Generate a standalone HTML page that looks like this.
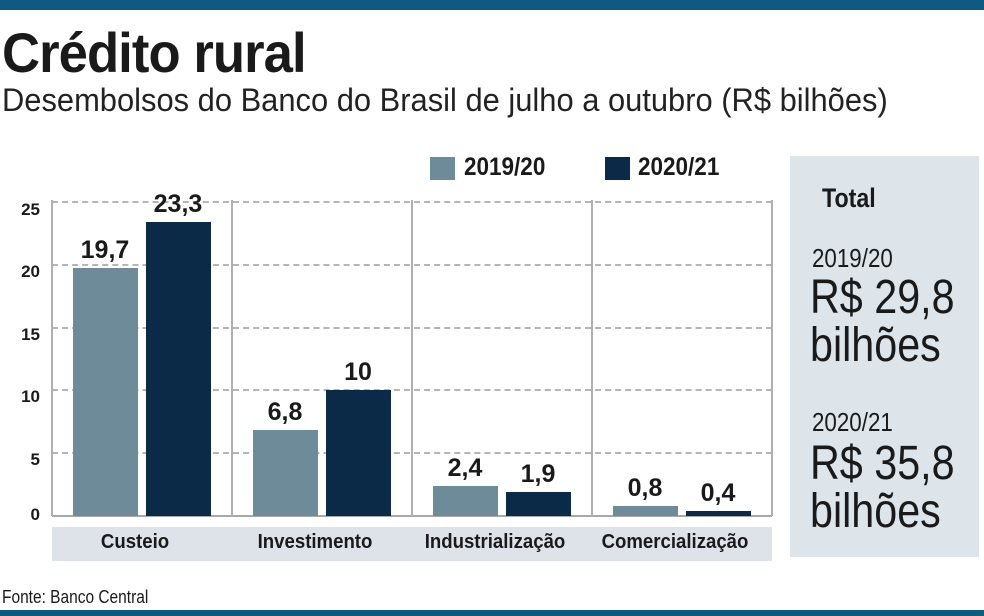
<!DOCTYPE html>
<html><head><meta charset="utf-8"><style>
body{margin:0;width:984px;height:616px;background:#fff;position:relative;overflow:hidden;font-family:"Liberation Sans",sans-serif;color:#1a1a1a}
.a{position:absolute;white-space:nowrap}
.s{transform-origin:left top;transform:scaleX(0.86)}
.b{font-weight:bold}
.grid{position:absolute;left:52px;width:720px;border-top:2px dashed #b5b5b5;height:0}
.v{position:absolute;top:200px;height:316px;width:2px;background:#b0b0b0}
.bar{position:absolute}
.l{background:#6e8b99}.d{background:#0b2a47}
.val{position:absolute;width:80px;text-align:center;font-weight:bold;font-size:25px}
.yl{position:absolute;left:0;width:40px;text-align:right;font-weight:bold;font-size:17px}
.cat{position:absolute;top:531px;width:180px;text-align:center;font-weight:bold;font-size:20px;transform:scaleX(0.93)}
</style></head><body>
<div class="a" style="left:0;top:0;width:984px;height:10px;background:#0e5a80"></div>
<div class="a" style="left:0;top:610px;width:984px;height:6px;background:#0e5a80"></div>
<div class="a b s" style="left:2px;top:20px;font-size:56px;letter-spacing:-1px;transform:scaleX(0.94)">Crédito rural</div>
<div class="a s" style="left:2px;top:82px;font-size:32px;color:#222;transform:scaleX(0.965)">Desembolsos do Banco do Brasil de julho a outubro (R$ bilhões)</div>

<div class="a l" style="left:430px;top:157px;width:25px;height:23px"></div>
<div class="a b s" style="left:464px;top:153px;font-size:25px;transform:scaleX(0.9)">2019/20</div>
<div class="a d" style="left:605px;top:157px;width:25px;height:23px"></div>
<div class="a b s" style="left:638px;top:153px;font-size:25px;transform:scaleX(0.9)">2020/21</div>

<div class="grid" style="top:201px"></div>
<div class="grid" style="top:264px"></div>
<div class="grid" style="top:327px"></div>
<div class="grid" style="top:389px"></div>
<div class="grid" style="top:452px"></div>
<div class="a" style="left:52px;top:515px;width:720px;height:2px;background:#a8a8a8"></div>
<div class="v" style="left:51px"></div><div class="v" style="left:231px"></div><div class="v" style="left:411px"></div><div class="v" style="left:591px"></div><div class="v" style="left:771px"></div>

<div class="yl" style="top:200px">25</div>
<div class="yl" style="top:262px">20</div>
<div class="yl" style="top:325px">15</div>
<div class="yl" style="top:387px">10</div>
<div class="yl" style="top:450px">5</div>
<div class="yl" style="top:505px">0</div>

<div class="bar l" style="left:73px;top:268px;width:65px;height:248px"></div>
<div class="bar d" style="left:146px;top:222px;width:65px;height:294px"></div>
<div class="bar l" style="left:253px;top:430px;width:65px;height:86px"></div>
<div class="bar d" style="left:326px;top:390px;width:65px;height:126px"></div>
<div class="bar l" style="left:433px;top:486px;width:65px;height:30px"></div>
<div class="bar d" style="left:506px;top:492px;width:65px;height:24px"></div>
<div class="bar l" style="left:613px;top:506px;width:65px;height:10px"></div>
<div class="bar d" style="left:686px;top:511px;width:65px;height:5px"></div>

<div class="val" style="left:65px;top:236px">19,7</div>
<div class="val" style="left:138px;top:190px">23,3</div>
<div class="val" style="left:245px;top:398px">6,8</div>
<div class="val" style="left:318px;top:358px">10</div>
<div class="val" style="left:425px;top:454px">2,4</div>
<div class="val" style="left:498px;top:460px">1,9</div>
<div class="val" style="left:605px;top:474px">0,8</div>
<div class="val" style="left:678px;top:479px">0,4</div>

<div class="a" style="left:52px;top:527px;width:720px;height:34px;background:#dde3e9"></div>
<div class="cat" style="left:45px">Custeio</div>
<div class="cat" style="left:225px">Investimento</div>
<div class="cat" style="left:405px">Industrialização</div>
<div class="cat" style="left:585px">Comercialização</div>

<div class="a" style="left:790px;top:156px;width:189px;height:401px;background:#dde4ea"></div>
<div class="a b s" style="left:822px;top:183px;font-size:27px">Total</div>
<div class="a s" style="left:812px;top:243px;font-size:26px">2019/20</div>
<div class="a s" style="left:810px;top:274px;font-size:48px;line-height:48px">R$ 29,8<br>bilhões</div>
<div class="a s" style="left:812px;top:407px;font-size:26px">2020/21</div>
<div class="a s" style="left:810px;top:440px;font-size:48px;line-height:48px">R$ 35,8<br>bilhões</div>

<div class="a s" style="left:2px;top:587px;font-size:18px">Fonte: Banco Central</div>
</body></html>
